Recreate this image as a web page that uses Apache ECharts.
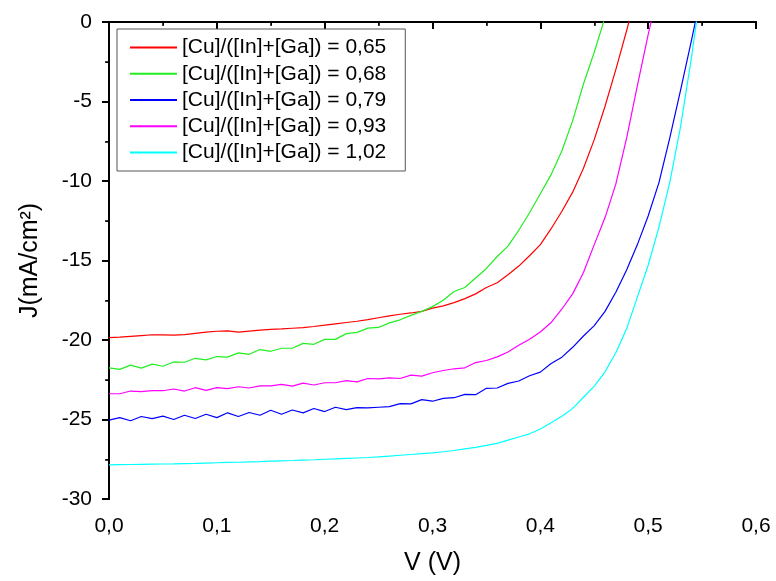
<!DOCTYPE html>
<html>
<head>
<meta charset="utf-8">
<script src="https://cdn.jsdelivr.net/npm/echarts@6/dist/echarts.min.js"></script>
<style>html,body{margin:0;padding:0;background:#fff}#c{width:776px;height:581px}</style>
</head>
<body>
<div id="c"></div>
<script>
// Voltage grid (V)
const voltage = [0.00,0.01,0.02,0.03,0.04,0.05,0.06,0.07,0.08,0.09,0.10,0.11,0.12,0.13,0.14,0.15,0.16,0.17,0.18,0.19,0.20,0.21,0.22,0.23,0.24,0.25,0.26,0.27,0.28,0.29,0.30,0.31,0.32,0.33,0.34,0.35,0.36,0.37,0.38,0.39,0.40,0.41,0.42,0.43,0.44,0.45,0.46,0.47,0.48,0.49,0.50,0.51,0.52,0.53,0.54,0.55];

const seriesNames = ["[Cu]/([In]+[Ga]) = 0,65","[Cu]/([In]+[Ga]) = 0,68","[Cu]/([In]+[Ga]) = 0,79","[Cu]/([In]+[Ga]) = 0,93","[Cu]/([In]+[Ga]) = 1,02"];

const j065 = [-19.85,-19.82,-19.77,-19.72,-19.67,-19.68,-19.69,-19.66,-19.58,-19.50,-19.45,-19.43,-19.50,-19.44,-19.38,-19.33,-19.30,-19.26,-19.22,-19.15,-19.07,-18.98,-18.90,-18.82,-18.72,-18.60,-18.48,-18.38,-18.30,-18.20,-18.00,-17.85,-17.65,-17.40,-17.10,-16.70,-16.40,-15.90,-15.35,-14.70,-14.00,-13.00,-11.90,-10.70,-9.20,-7.40,-5.30,-3.00,-0.55,2.00];

const j068 = [-21.75,-21.85,-21.58,-21.77,-21.52,-21.65,-21.38,-21.40,-21.15,-21.25,-21.04,-21.08,-20.81,-20.90,-20.60,-20.71,-20.52,-20.52,-20.21,-20.27,-19.96,-19.96,-19.60,-19.52,-19.25,-19.21,-18.92,-18.73,-18.45,-18.20,-17.90,-17.50,-16.95,-16.70,-16.10,-15.50,-14.75,-14.10,-13.10,-12.00,-10.80,-9.60,-8.10,-6.20,-3.90,-1.90,0.30];

const j079 = [-25.04,-24.88,-25.08,-24.81,-24.94,-24.79,-25.00,-24.73,-24.94,-24.67,-24.88,-24.58,-24.81,-24.56,-24.73,-24.42,-24.67,-24.40,-24.58,-24.31,-24.50,-24.23,-24.38,-24.25,-24.27,-24.23,-24.19,-24.00,-24.02,-23.75,-23.85,-23.67,-23.63,-23.42,-23.44,-23.04,-23.02,-22.73,-22.58,-22.25,-22.02,-21.48,-21.08,-20.46,-19.75,-19.10,-18.20,-17.00,-15.60,-14.00,-12.20,-10.10,-7.30,-4.30,-1.20,2.00];

const j093 = [-23.38,-23.38,-23.21,-23.25,-23.19,-23.19,-23.08,-23.21,-23.00,-23.17,-23.00,-23.06,-22.94,-23.02,-22.88,-22.88,-22.79,-22.90,-22.71,-22.83,-22.69,-22.69,-22.56,-22.63,-22.42,-22.44,-22.38,-22.42,-22.21,-22.27,-22.06,-21.92,-21.81,-21.75,-21.42,-21.29,-21.06,-20.75,-20.33,-19.95,-19.50,-18.90,-18.05,-17.10,-15.75,-14.00,-12.30,-10.20,-7.30,-4.00,-0.80,2.20];

const j102 = [-27.85,-27.84,-27.83,-27.82,-27.81,-27.80,-27.79,-27.77,-27.76,-27.74,-27.72,-27.70,-27.69,-27.67,-27.65,-27.62,-27.60,-27.58,-27.55,-27.53,-27.50,-27.48,-27.45,-27.42,-27.39,-27.35,-27.30,-27.25,-27.20,-27.15,-27.10,-27.03,-26.95,-26.85,-26.75,-26.63,-26.50,-26.30,-26.10,-25.90,-25.60,-25.20,-24.80,-24.30,-23.60,-22.90,-22.00,-20.80,-19.30,-17.30,-15.30,-12.90,-10.10,-6.60,-2.30,2.50];

const colors = ["#ff0000","#22ee22","#0000ff","#ff00ff","#00ffff"];
const xTicks = {min:0, max:0.6, interval:0.1};
const yTicks = {min:-30, max:0, interval:5};

const curves = [j065, j068, j079, j093, j102];
const FONT = "Liberation Sans, Arial, sans-serif";

const chart = echarts.init(document.getElementById('c'), null, {renderer:'canvas'});
const axisLine = {show:true, lineStyle:{color:'#000', width:2}};
chart.setOption({
  animation:false,
  backgroundColor:'#fff',
  grid:{left:109, right:20, top:22, bottom:78, containLabel:false},
  legend:{
    orient:'vertical', left:117, top:29,
    padding:[8,19,8,13], itemGap:5.25, itemWidth:47, itemHeight:2,
    icon:'rect',
    borderColor:'#555', borderWidth:1, backgroundColor:'#fff',
    textStyle:{fontFamily:FONT, fontSize:21, lineHeight:21, color:'#000'},
    data:seriesNames
  },
  xAxis:[{
    type:'value', min:xTicks.min, max:xTicks.max, interval:xTicks.interval,
    name:'V (V)', nameLocation:'middle', nameGap:52,
    nameTextStyle:{fontFamily:FONT, fontSize:25, color:'#000'},
    axisLine:axisLine,
    axisTick:{show:true, length:7, lineStyle:{color:'#000', width:2}},
    minorTick:{show:true, splitNumber:2, length:4, lineStyle:{color:'#000', width:1.5}},
    axisLabel:{fontFamily:FONT, fontSize:21, color:'#000', margin:17,
      formatter:v=>v.toFixed(1).replace('.',',')},
    splitLine:{show:false}
  },{
    type:'value', position:'top', min:xTicks.min, max:xTicks.max, interval:xTicks.interval,
    axisLine:axisLine,
    axisTick:{show:true, inside:true, length:4, lineStyle:{color:'#000', width:1.5}},
    minorTick:{show:true, splitNumber:2, length:3, lineStyle:{color:'#000', width:1}},
    axisLabel:{show:false}, splitLine:{show:false}
  }],
  yAxis:[{
    type:'value', min:yTicks.min, max:yTicks.max, interval:yTicks.interval,
    name:'J(mA/cm²)', nameLocation:'middle', nameGap:66, nameRotate:90,
    nameTextStyle:{fontFamily:FONT, fontSize:25, color:'#000'},
    axisLine:axisLine,
    axisTick:{show:true, length:7, lineStyle:{color:'#000', width:2}},
    minorTick:{show:true, splitNumber:2, length:4, lineStyle:{color:'#000', width:1.5}},
    axisLabel:{fontFamily:FONT, fontSize:21, color:'#000', margin:17},
    splitLine:{show:false}
  },{
    type:'value', position:'right', min:yTicks.min, max:yTicks.max, interval:yTicks.interval,
    axisLine:axisLine,
    axisTick:{show:true, inside:true, length:4, lineStyle:{color:'#000', width:1.5}},
    minorTick:{show:true, splitNumber:2, length:3, lineStyle:{color:'#000', width:1}},
    axisLabel:{show:false}, splitLine:{show:false}
  }],
  series: curves.map((c,k)=>({
    name:seriesNames[k], type:'line', xAxisIndex:0, yAxisIndex:0,
    symbol:'none', showSymbol:false, smooth:false, clip:true,
    lineStyle:{color:colors[k], width:1.2}, itemStyle:{color:colors[k]},
    data:c.map((j,i)=>[voltage[i], j])
  }))
});
</script>
</body>
</html>
